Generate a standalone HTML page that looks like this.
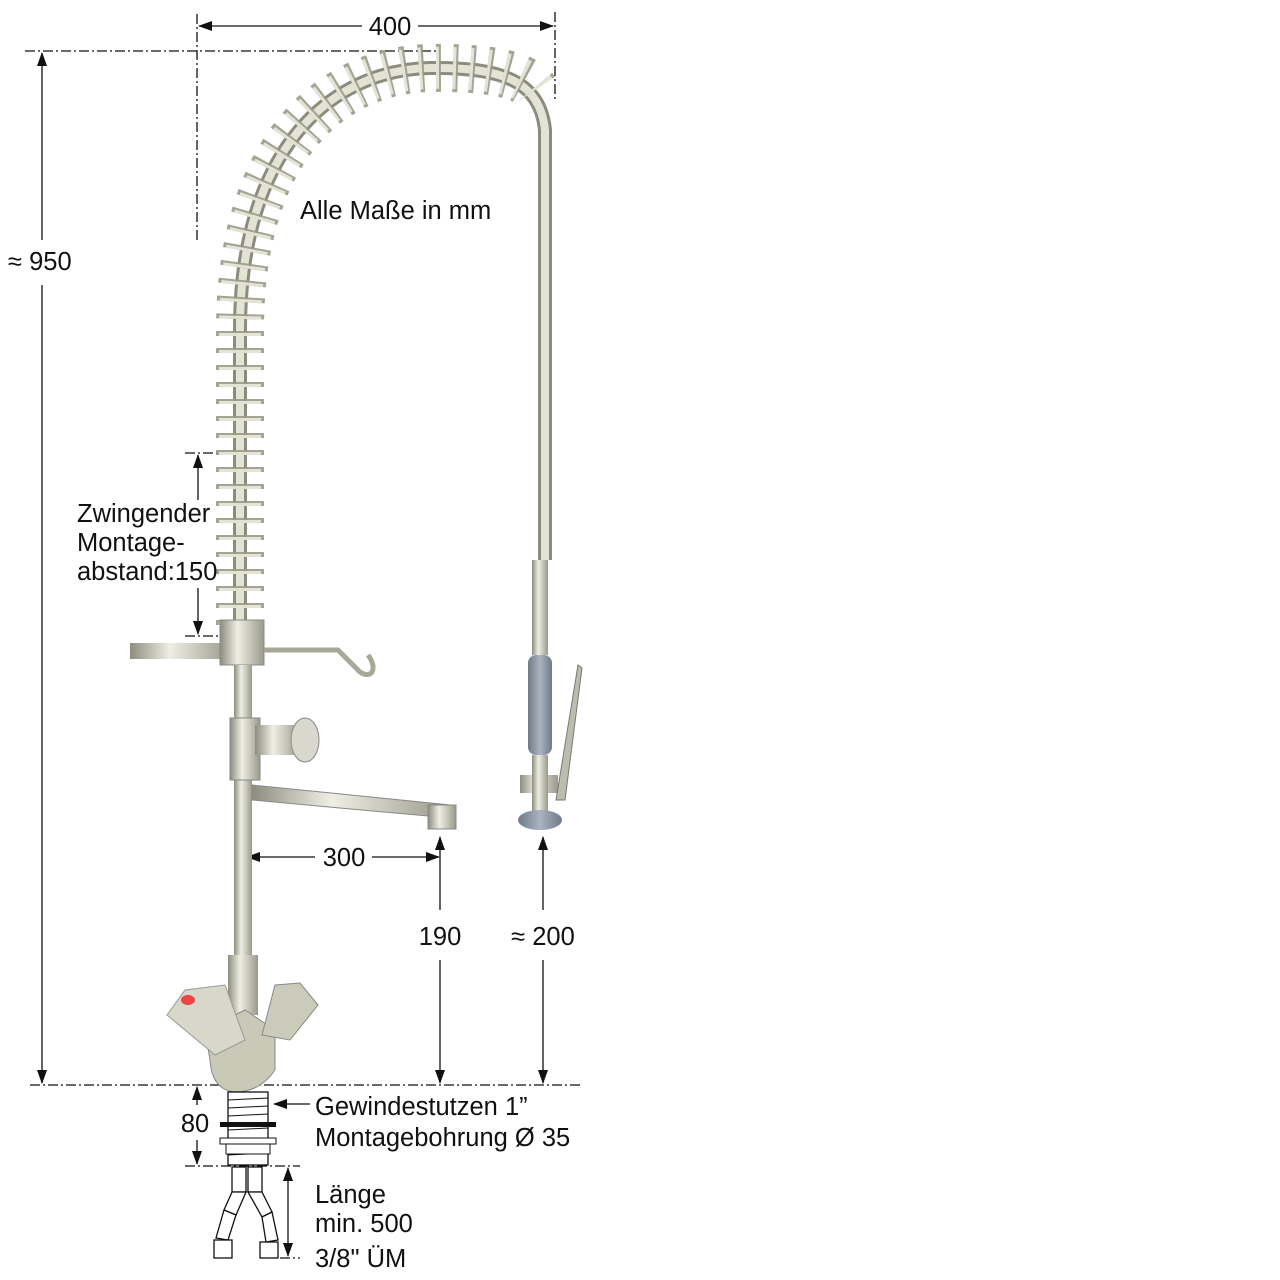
<!DOCTYPE html>
<html><head><meta charset="utf-8"><style>
html,body{margin:0;padding:0;background:#fff;}
svg{display:block;}
text{font-family:"Liberation Sans",Arial,sans-serif;font-size:25.5px;fill:#111;}
</style></head><body>
<svg width="1280" height="1280" viewBox="0 0 1280 1280" xmlns="http://www.w3.org/2000/svg">
<defs>
<marker id="a" markerWidth="14" markerHeight="10" refX="13" refY="5" orient="auto" markerUnits="userSpaceOnUse"><path d="M0,0 L14,5 L0,10 Z" fill="#111"/></marker>
<marker id="b" markerWidth="14" markerHeight="10" refX="1" refY="5" orient="auto" markerUnits="userSpaceOnUse"><path d="M14,0 L0,5 L14,10 Z" fill="#111"/></marker>
<linearGradient id="m" x1="0" x2="1"><stop offset="0" stop-color="#8d8d7e"/><stop offset=".4" stop-color="#eeeee4"/><stop offset="1" stop-color="#9a9a8a"/></linearGradient>
<linearGradient id="g" x1="0" x2="1"><stop offset="0" stop-color="#6f7a88"/><stop offset=".5" stop-color="#aab3c0"/><stop offset="1" stop-color="#6f7a88"/></linearGradient>
</defs>
<g stroke="#111" stroke-width="1.3" fill="none">
<g stroke-dasharray="10,3,2,3">
<line x1="25" y1="51" x2="440" y2="51"/>
<line x1="30" y1="1085" x2="580" y2="1085"/>
<line x1="197" y1="14" x2="197" y2="240"/>
<line x1="555" y1="12" x2="555" y2="100"/>
<line x1="185" y1="453" x2="232" y2="453"/>
<line x1="185" y1="636" x2="222" y2="636"/>
<line x1="185" y1="1166" x2="300" y2="1166"/>
<line x1="280" y1="1258" x2="300" y2="1258"/>
</g>
<line x1="199" y1="26" x2="362" y2="26" marker-start="url(#b)"/>
<line x1="418" y1="26" x2="553" y2="26" marker-end="url(#a)"/>
<line x1="42" y1="53" x2="42" y2="240" marker-start="url(#b)"/>
<line x1="42" y1="285" x2="42" y2="1083" marker-end="url(#a)"/>
<line x1="198" y1="455" x2="198" y2="500" marker-start="url(#b)"/>
<line x1="198" y1="588" x2="198" y2="634" marker-end="url(#a)"/>
<line x1="247" y1="857" x2="315" y2="857" marker-start="url(#b)"/>
<line x1="372" y1="857" x2="439" y2="857" marker-end="url(#a)"/>
<line x1="440" y1="837" x2="440" y2="910" marker-start="url(#b)"/>
<line x1="440" y1="960" x2="440" y2="1083" marker-end="url(#a)"/>
<line x1="543" y1="837" x2="543" y2="910" marker-start="url(#b)"/>
<line x1="543" y1="960" x2="543" y2="1083" marker-end="url(#a)"/>
<line x1="197" y1="1087" x2="197" y2="1105" marker-start="url(#b)"/>
<line x1="197" y1="1140" x2="197" y2="1164" marker-end="url(#a)"/>
<line x1="310" y1="1104" x2="274" y2="1104" marker-end="url(#a)"/>
<line x1="288" y1="1168" x2="288" y2="1256" marker-start="url(#b)" marker-end="url(#a)"/>
</g>
<!-- hose -->
<path d="M240,630 L240,330 C240,150 330,70 430,68 C500,67 540,80 545,130 L545,560" fill="none" stroke="#8c8c7c" stroke-width="14"/>
<path d="M240,630 L240,330 C240,150 330,70 430,68 C500,67 540,80 545,130 L545,560" fill="none" stroke="#e4e4d6" stroke-width="8"/>
<path d="M240,625 L240,330 C240,150 330,70 430,68 C490,67 525,75 535,90" fill="none" stroke="#9a9a88" stroke-width="48" stroke-dasharray="5,12" opacity=".9"/>
<path d="M240,625 L240,330 C240,150 330,70 430,68 C490,67 525,75 535,90" fill="none" stroke="#eaeadd" stroke-width="42" stroke-dasharray="3,14" opacity=".9"/>
<!-- handle -->
<rect x="532" y="560" width="16" height="95" fill="url(#m)"/>
<rect x="528" y="655" width="24" height="100" rx="8" fill="url(#g)"/>
<rect x="520" y="775" width="38" height="18" fill="url(#m)"/>
<rect x="532" y="755" width="16" height="60" fill="url(#m)"/>
<ellipse cx="540" cy="820" rx="22" ry="10" fill="url(#g)"/>
<path d="M556,800 L578,665 L582,668 L565,800 Z" fill="#bdbdae" stroke="#777" stroke-width="1"/>
<!-- bracket -->
<rect x="130" y="643" width="100" height="16" fill="url(#m)"/>
<rect x="220" y="620" width="44" height="45" fill="url(#m)" stroke="#888" stroke-width="1"/>
<path d="M264,650 L338,650 L360,672 C372,680 378,668 368,655" fill="none" stroke="#a8a898" stroke-width="5"/>
<!-- vertical pipe -->
<rect x="234" y="665" width="18" height="300" fill="url(#m)"/>
<rect x="230" y="718" width="30" height="62" fill="url(#m)" stroke="#888" stroke-width="1"/>
<rect x="255" y="725" width="45" height="30" fill="url(#m)"/>
<ellipse cx="305" cy="740" rx="14" ry="22" fill="#d8d8cc" stroke="#888" stroke-width="1"/>
<path d="M252,785 L450,805 L450,818 L252,800 Z" fill="url(#m)" stroke="#888" stroke-width="1"/>
<rect x="428" y="805" width="28" height="24" fill="url(#m)" stroke="#888" stroke-width="1"/>
<!-- mixer -->
<rect x="228" y="955" width="30" height="60" fill="url(#m)"/>
<path d="M205,1030 L245,1010 L275,1030 L275,1070 Q260,1092 235,1092 Q212,1090 210,1060 Z" fill="#c9c9b8" stroke="#888" stroke-width="1"/>
<path d="M167,1015 L185,990 L225,985 L245,1040 L215,1055 Z" fill="#d7d7ca" stroke="#999" stroke-width="1"/>
<ellipse cx="188" cy="1000" rx="7" ry="5" fill="#e44"/>
<path d="M262,1035 L275,985 L300,983 L318,1005 L290,1040 Z" fill="#cbcbbc" stroke="#888" stroke-width="1"/>
<!-- thread -->
<rect x="228" y="1092" width="40" height="73" fill="#fff" stroke="#111" stroke-width="1.3"/>
<g stroke="#111" stroke-width="1"><line x1="228" y1="1100" x2="268" y2="1098"/><line x1="228" y1="1108" x2="268" y2="1106"/><line x1="228" y1="1116" x2="268" y2="1114"/><line x1="228" y1="1130" x2="268" y2="1128"/><line x1="228" y1="1155" x2="268" y2="1153"/></g>
<rect x="220" y="1122" width="56" height="5" fill="#111"/>
<rect x="220" y="1138" width="56" height="6" fill="#fff" stroke="#111"/>
<rect x="226" y="1144" width="44" height="10" fill="#fff" stroke="#111"/>
<g fill="#fff" stroke="#111" stroke-width="1.3">
<rect x="232" y="1167" width="14" height="25"/><rect x="248" y="1167" width="14" height="25"/>
<path d="M232,1192 L246,1192 L236,1215 L224,1210 Z"/><path d="M248,1192 L262,1192 L272,1212 L262,1217 Z"/>
<path d="M224,1210 L236,1215 L228,1240 L216,1238 Z"/><path d="M262,1217 L272,1212 L278,1240 L266,1242 Z"/>
<rect x="214" y="1240" width="18" height="18"/><rect x="260" y="1242" width="18" height="16"/>
</g>
<!-- text -->
<text x="390" y="35" text-anchor="middle">400</text>
<text x="8" y="270">≈ 950</text>
<text x="300" y="219">Alle Maße in mm</text>
<text x="77" y="522">Zwingender</text>
<text x="77" y="551">Montage-</text>
<text x="77" y="580">abstand:150</text>
<text x="344" y="866" text-anchor="middle">300</text>
<text x="440" y="945" text-anchor="middle">190</text>
<text x="543" y="945" text-anchor="middle">≈ 200</text>
<text x="195" y="1132" text-anchor="middle">80</text>
<text x="315" y="1115">Gewindestutzen 1”</text>
<text x="315" y="1146">Montagebohrung Ø 35</text>
<text x="315" y="1203">Länge</text>
<text x="315" y="1232">min. 500</text>
<text x="315" y="1267">3/8" ÜM</text>
</svg>
</body></html>
